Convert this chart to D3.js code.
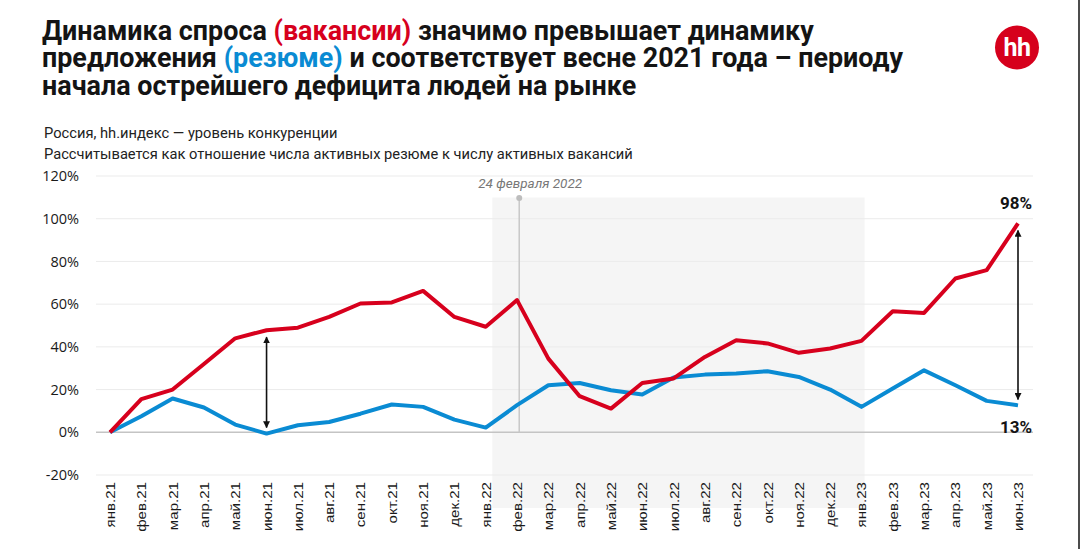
<!DOCTYPE html>
<html><head><meta charset="utf-8">
<script src="https://cdn.jsdelivr.net/npm/d3@7"></script>
<style>
html,body{margin:0;padding:0;background:#fff;}
svg{display:block;}
</style></head>
<body>
<svg id="c" width="1080" height="549"></svg>
<script>
const months = ["янв.21","фев.21","мар.21","апр.21","май.21","июн.21","июл.21","авг.21","сен.21","окт.21","ноя.21","дек.21",
"янв.22","фев.22","мар.22","апр.22","май.22","июн.22","июл.22","авг.22","сен.22","окт.22","ноя.22","дек.22",
"янв.23","фев.23","мар.23","апр.23","май.23","июн.23"];
const vacancies = [0,15.5,20,32,44,47.8,49,54,60.3,60.8,66.2,54,49.4,61.9,34.5,16.9,11.1,23.1,25.2,35.3,43.1,41.6,37.2,39.2,42.8,56.7,55.9,72,75.9,97.8];
const resumes = [0,7.5,15.8,11.6,3.6,-0.6,3.3,4.8,8.7,13,11.9,5.9,2.2,12.7,22,23.1,19.7,17.7,25.6,27,27.5,28.6,25.9,20,11.9,20.5,29,22,14.7,12.6];
const yTicks = [-20,0,20,40,60,80,100,120];
const eventLabel = "24 февраля 2022";
const eventIndex = 13.07;
const shadeRange = [12.21, 24.1];
const arrowIndices = [5, 29];
const endLabels = ["98%","13%"];

const RED = "#d7001d", BLUE = "#0a8bd3";
const svg = d3.select("#c");

// title: one text element, lines as tspans
const tl = [
  [["Динамика спроса ",null],["(вакансии)",RED],[" значимо превышает динамику",null]],
  [["предложения ",null],["(резюме)",BLUE],[" и соответствует весне 2021 года – периоду",null]],
  [["начала острейшего дефицита людей на рынке",null]]
];
let fs = 26.5;
{
  const probe = svg.append("text").attr("font-family","Roboto").attr("font-weight",700).attr("font-size",fs)
    .text(tl[0].map(p=>p[0]).join(""));
  fs = fs*772/probe.node().getComputedTextLength();
  probe.remove();
}
const title = svg.append("text").attr("font-family","Roboto").attr("font-weight",700).attr("fill","#141414")
  .attr("font-size",fs).attr("x",42).attr("y",39.5);
tl.forEach((line,i)=>{
  line.forEach(([s,c],j)=>{
    const ts = title.append("tspan").text(s);
    if(j===0 && i>0) ts.attr("x",42).attr("dy",27.5);
    if(c) ts.attr("fill",c);
  });
});

svg.append("text").attr("x",44).attr("y",138).attr("font-family","Roboto").attr("font-size",14.7).attr("fill","#222")
  .text("Россия, hh.индекс — уровень конкуренции");
svg.append("text").attr("x",44).attr("y",158.5).attr("font-family","Roboto").attr("font-size",14.7).attr("fill","#222")
  .text("Рассчитывается как отношение числа активных резюме к числу активных вакансий");

// logo
svg.append("circle").attr("cx",1017).attr("cy",47.5).attr("r",22).attr("fill","#d6001c");
svg.append("text").attr("x",1017).attr("y",56).attr("text-anchor","middle").attr("font-family","Roboto")
  .attr("font-weight",700).attr("font-size",25).attr("fill","#fff").attr("letter-spacing",-0.5).text("hh");

// border right
svg.append("line").attr("x1",1079).attr("x2",1079).attr("y1",0).attr("y2",549).attr("stroke","#111").attr("stroke-width",1.5);

// scales
const x = d3.scalePoint().domain(months).range([110,1018]);
const xi = d3.scaleLinear().domain([0,months.length-1]).range([x(months[0]), x(months[months.length-1])]);
const y = d3.scaleLinear().domain([-20,120]).range([475,176]);

// shade
svg.append("rect").attr("x",xi(shadeRange[0])).attr("width",xi(shadeRange[1])-xi(shadeRange[0]))
  .attr("y",197.5).attr("height",508-197.5).attr("fill","#f5f5f5");

// grid
svg.append("g").selectAll("line").data(yTicks).join("line")
  .attr("x1",96).attr("x2",1033).attr("y1",d=>y(d)).attr("y2",d=>y(d))
  .attr("stroke",d=>d===0?"#c4c4c4":"#ebebeb").attr("stroke-width",d=>d===0?1.5:1);

// y axis labels
const yAxis = d3.axisLeft(y).tickValues(yTicks).tickFormat(d=>d+"%").tickSize(0).tickPadding(0);
const ya = svg.append("g").attr("transform","translate(79,0)").call(yAxis);
ya.select(".domain").remove();
ya.selectAll("text").attr("font-family","Open Sans").attr("font-size",14.5).attr("fill","#1a1a1a");

// x axis labels
const xa = svg.append("g").attr("transform","translate(0,482)").call(d3.axisBottom(x).tickSize(0).tickPadding(0));
xa.select(".domain").remove();
xa.selectAll("text").attr("font-family","Liberation Sans").attr("font-size",12.8).attr("fill","#1a1a1a")
  .attr("text-anchor","end").attr("dy","0.35em").attr("y",0)
  .attr("transform","rotate(-90) scale(1.18,1)");

// event line
const ex = xi(eventIndex);
svg.append("line").attr("x1",ex).attr("x2",ex).attr("y1",198).attr("y2",y(0)).attr("stroke","#c8c8c8").attr("stroke-width",1.5);
svg.append("circle").attr("cx",ex).attr("cy",198).attr("r",3).attr("fill","#bdbdbd");
svg.append("text").attr("x",ex+11).attr("y",187.5).attr("text-anchor","middle").attr("font-family","Roboto")
  .attr("font-style","italic").attr("font-size",13.5).attr("fill","#777").text(eventLabel);

// lines
const line = d3.line().x((d,i)=>x(months[i])).y(d=>y(d));
svg.append("path").datum(resumes).attr("d",line).attr("fill","none").attr("stroke",BLUE).attr("stroke-width",4).attr("stroke-linejoin","round");
svg.append("path").datum(vacancies).attr("d",line).attr("fill","none").attr("stroke",RED).attr("stroke-width",4).attr("stroke-linejoin","round");

// arrows
const defs = svg.append("defs");
defs.append("marker").attr("id","ah").attr("viewBox","0 0 10 10").attr("refX",9).attr("refY",5)
  .attr("markerWidth",7).attr("markerHeight",7).attr("orient","auto-start-reverse").attr("markerUnits","userSpaceOnUse")
  .append("path").attr("d","M0,0 L10,5 L0,10 z").attr("fill","#111");
arrowIndices.forEach(i=>{
  const ax = x(months[i]);
  svg.append("line").attr("x1",ax).attr("x2",ax).attr("y1",y(vacancies[i])+7).attr("y2",y(resumes[i])-6)
    .attr("stroke","#111").attr("stroke-width",1.6).attr("marker-start","url(#ah)").attr("marker-end","url(#ah)");
});

// end labels
const li = months.length-1;
svg.append("text").attr("x",x(months[li])-2).attr("y",y(vacancies[li])-14).attr("text-anchor","middle")
  .attr("font-family","Roboto").attr("font-weight",700).attr("font-size",17).attr("fill","#141414").text(endLabels[0]);
svg.append("text").attr("x",x(months[li])-2).attr("y",y(resumes[li])+28).attr("text-anchor","middle")
  .attr("font-family","Roboto").attr("font-weight",700).attr("font-size",17).attr("fill","#141414").text(endLabels[1]);
</script>
</body></html>
